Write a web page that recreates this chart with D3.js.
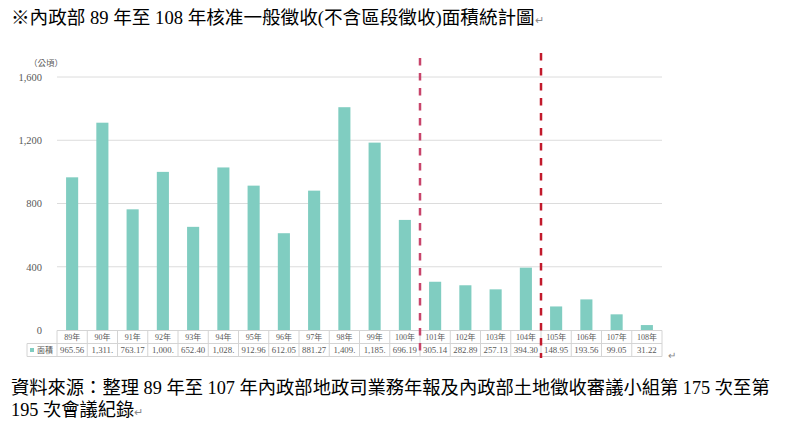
<!DOCTYPE html>
<html>

<head>
    <meta charset="utf-8">
    <title>核准一般徵收面積統計圖</title>
    <script src="https://d3js.org/d3.v7.min.js"></script>
    <style>
        body {
            margin: 0;
            background: #fff;
        }

        .serif {
            font-family: "Liberation Serif", "Noto Sans CJK TC", serif;
        }
    </style>
</head>

<body>
    <svg></svg>
    <script>
        // data
        const years = ["89年", "90年", "91年", "92年", "93年", "94年", "95年", "96年", "97年", "98年",
            "99年", "100年", "101年", "102年", "103年", "104年", "105年", "106年", "107年", "108年"];
        const areas = [965.56, 1311, 763.17, 1000, 652.40, 1028, 912.96, 612.05, 881.27, 1409,
            1185, 696.19, 305.14, 282.89, 257.13, 394.30, 148.95, 193.56, 99.05, 31.22];
        // labels as printed in the table (some are cut off in the source)
        const areaLabels = ["965.56", "1,311.", "763.17", "1,000.", "652.40", "1,028.", "912.96", "612.05", "881.27", "1,409.",
            "1,185.", "696.19", "305.14", "282.89", "257.13", "394.30", "148.95", "193.56", "99.05", "31.22"];
        const yTicks = [0, 400, 800, 1200, 1600];
        const splitYears = ["101年", "105年"];

        const width = 800;
        const height = 431;
        const plot = { left: 57, right: 662, top: 77, bottom: 330 };

        const svg = d3.select("svg")
            .attr("width", width)
            .attr("height", height);

        const x = d3.scaleBand()
            .domain(years)
            .range([plot.left, plot.right]);
        const y = d3.scaleLinear()
            .domain([0, 1600])
            .range([plot.bottom, plot.top]);

        // title
        svg.append("text")
            .attr("class", "serif")
            .attr("x", 11)
            .attr("y", 24)
            .attr("font-size", 18.6)
            .attr("fill", "#000")
            .text("※內政部 89 年至 108 年核准一般徵收(不含區段徵收)面積統計圖")
            .append("tspan")
            .attr("font-size", 11)
            .attr("fill", "#888")
            .text("↵");

        // grid lines
        svg.append("g")
            .selectAll("line")
            .data(yTicks.filter(d => d > 0))
            .join("line")
            .attr("x1", plot.left)
            .attr("x2", plot.right)
            .attr("y1", d => y(d))
            .attr("y2", d => y(d))
            .attr("stroke", "#dcdcdc")
            .attr("stroke-width", 1);

        // y axis labels
        const yAxis = d3.axisLeft(y)
            .tickValues(yTicks)
            .tickFormat(d3.format(","))
            .tickSize(0)
            .tickPadding(0);
        const gy = svg.append("g")
            .attr("transform", "translate(42,0)")
            .call(yAxis);
        gy.select(".domain").remove();
        gy.selectAll("text")
            .attr("class", "serif")
            .attr("font-size", 10.5)
            .attr("fill", "#595959");

        svg.append("text")
            .attr("x", 29)
            .attr("y", 66)
            .attr("font-family", "Noto Sans CJK TC")
            .attr("font-size", 8.5)
            .attr("fill", "#595959")
            .text("（公頃）");

        // bars
        const barW = x.bandwidth() * 0.4;
        svg.append("g")
            .selectAll("rect")
            .data(areas)
            .join("rect")
            .attr("x", (d, i) => x(years[i]) + (x.bandwidth() - barW) / 2)
            .attr("y", d => y(d))
            .attr("width", barW)
            .attr("height", d => y(0) - y(d))
            .attr("fill", "#80CDC1");

        // data table under the chart
        const rowTop = plot.bottom + 0.5;
        const rowH = 13;
        const table = svg.append("g");
        const cellStroke = "#d4d4d4";

        table.append("line")
            .attr("x1", plot.left).attr("x2", plot.right)
            .attr("y1", rowTop).attr("y2", rowTop)
            .attr("stroke", cellStroke);
        table.append("line")
            .attr("x1", 27).attr("x2", plot.right)
            .attr("y1", rowTop + rowH).attr("y2", rowTop + rowH)
            .attr("stroke", cellStroke);
        table.append("line")
            .attr("x1", 27).attr("x2", plot.right)
            .attr("y1", rowTop + rowH * 2).attr("y2", rowTop + rowH * 2)
            .attr("stroke", cellStroke);
        table.append("line")
            .attr("x1", 27).attr("x2", 27)
            .attr("y1", rowTop + rowH).attr("y2", rowTop + rowH * 2)
            .attr("stroke", cellStroke);
        table.selectAll(".vline")
            .data(years.concat(["end"]))
            .join("line")
            .attr("class", "vline")
            .attr("x1", (d, i) => i < years.length ? x(d) : plot.right)
            .attr("x2", (d, i) => i < years.length ? x(d) : plot.right)
            .attr("y1", rowTop)
            .attr("y2", rowTop + rowH * 2)
            .attr("stroke", cellStroke);

        table.selectAll(".year")
            .data(years)
            .join("text")
            .attr("class", "year serif")
            .attr("x", d => x(d) + x.bandwidth() / 2)
            .attr("y", rowTop + rowH / 2 + 3)
            .attr("text-anchor", "middle")
            .attr("font-size", 8)
            .attr("fill", "#595959")
            .text(d => d);

        table.selectAll(".val")
            .data(areaLabels)
            .join("text")
            .attr("class", "val serif")
            .attr("x", (d, i) => x(years[i]) + x.bandwidth() / 2)
            .attr("y", rowTop + rowH * 1.5 + 3)
            .attr("text-anchor", "middle")
            .attr("font-size", 8.8)
            .attr("fill", "#595959")
            .text(d => d);

        // legend key in the table
        table.append("rect")
            .attr("x", 30)
            .attr("y", rowTop + rowH * 1.5 - 2)
            .attr("width", 4)
            .attr("height", 4)
            .attr("fill", "#80CDC1");
        table.append("text")
            .attr("x", 37)
            .attr("y", rowTop + rowH * 1.5 + 3)
            .attr("font-family", "Noto Sans CJK TC")
            .attr("font-size", 8)
            .attr("fill", "#595959")
            .text("面積");

        svg.append("text")
            .attr("x", 668)
            .attr("y", 359)
            .attr("font-size", 10)
            .attr("fill", "#888")
            .text("↵");

        // red dashed separators
        const splitTops = [58, 53];
        const splitColors = ["#c8456b", "#c21a2c"];
        svg.append("g")
            .selectAll("line")
            .data(splitYears)
            .join("line")
            .attr("x1", d => x(d))
            .attr("x2", d => x(d))
            .attr("y1", (d, i) => splitTops[i])
            .attr("y2", 358)
            .attr("stroke", (d, i) => splitColors[i])
            .attr("stroke-width", 2.5)
            .attr("stroke-dasharray", "7.5,7.5");

        // source note
        const note = svg.append("g")
            .attr("class", "serif")
            .attr("font-size", 18.3)
            .attr("fill", "#000");
        note.append("text")
            .attr("x", 11)
            .attr("y", 394)
            .text("資料來源：整理 89 年至 107 年內政部地政司業務年報及內政部土地徵收審議小組第 175 次至第");
        note.append("text")
            .attr("x", 11)
            .attr("y", 416)
            .text("195 次會議紀錄")
            .append("tspan")
            .attr("font-size", 11)
            .attr("fill", "#888")
            .text("↵");
    </script>
</body>

</html>
